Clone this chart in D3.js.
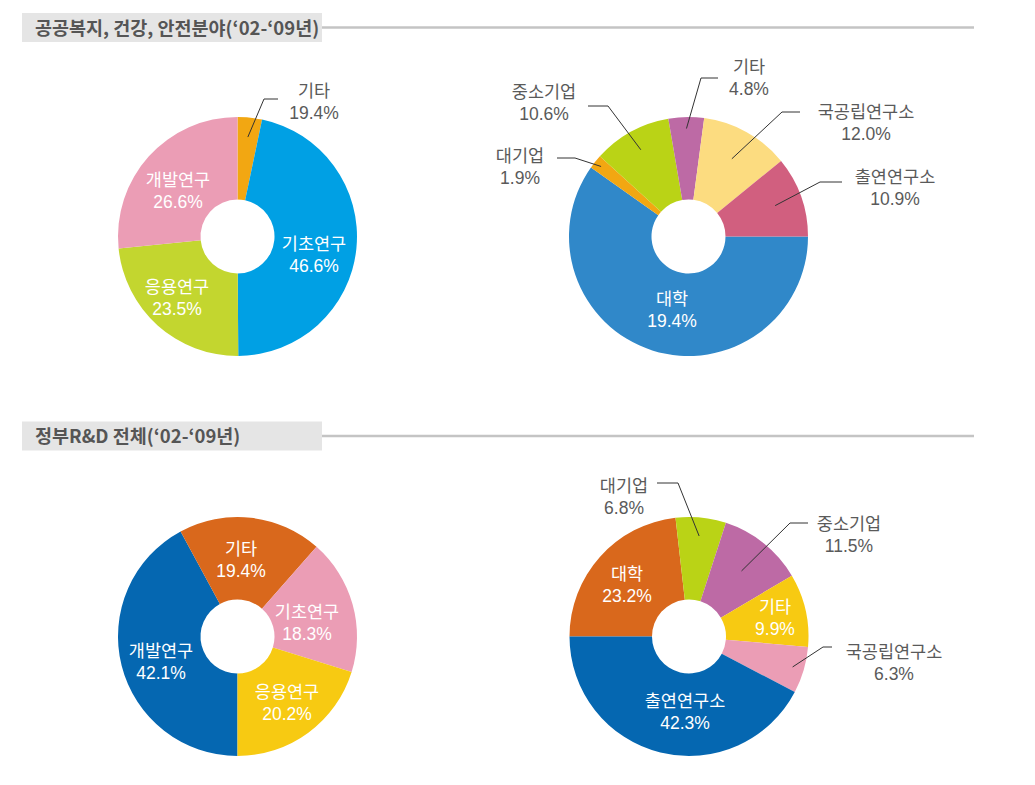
<!DOCTYPE html>
<html><head><meta charset="utf-8">
<script src="https://cdn.jsdelivr.net/npm/d3@7"></script>
<style>
html,body{margin:0;padding:0;background:#fff;}
svg{display:block;}
text{font-family:"Noto Sans CJK KR","Noto Sans",sans-serif;}
</style></head>
<body>
<svg id="chart" width="1035" height="785"></svg>
<script>
// ---- Data ----
const headerTitles = ["공공복지, 건강, 안전분야(‘02-‘09년)", "정부R&D 전체(‘02-‘09년)"];

// Chart 1: 공공복지 - 연구단계
const c1Categories = ["기타", "기초연구", "응용연구", "개발연구"];
const c1Values     = [3.3, 46.6, 23.5, 26.6];
const c1Labels     = ["19.4%", "46.6%", "23.5%", "26.6%"];

// Chart 2: 공공복지 - 수행주체
const c2Categories = ["대학", "대기업", "중소기업", "기타", "국공립연구소", "출연연구소"];
const c2Values     = [59.8, 1.9, 10.6, 4.8, 12.0, 10.9];
const c2Labels     = ["19.4%", "1.9%", "10.6%", "4.8%", "12.0%", "10.9%"];

// Chart 3: 정부R&D 전체 - 연구단계
const c3Categories = ["개발연구", "기타", "기초연구", "응용연구"];
const c3Values     = [42.1, 19.4, 18.3, 20.2];
const c3Labels     = ["42.1%", "19.4%", "18.3%", "20.2%"];

// Chart 4: 정부R&D 전체 - 수행주체
const c4Categories = ["대학", "대기업", "중소기업", "기타", "국공립연구소", "출연연구소"];
const c4Values     = [23.2, 6.8, 11.5, 9.9, 6.3, 42.3];
const c4Labels     = ["23.2%", "6.8%", "11.5%", "9.9%", "6.3%", "42.3%"];

// ---- Styles ----
const c1Colors = ["#f2a712", "#00a0e4", "#c3d62f", "#eb9db5"];
const c2Colors = ["#3088c9", "#f2a712", "#bad316", "#bd6aa5", "#fcdc80", "#d15f7f"];
const c3Colors = ["#0567b1", "#d9681c", "#eb9db5", "#f7ca12"];
const c4Colors = ["#d9681c", "#bad316", "#bd6aa5", "#f7ca12", "#eb9db5", "#0567b1"];

// ---- Layout (label placement relative to chart centre) ----
// inside: {t:[dx,dy]}  outside: {r: leader start radius, e:[elbow], n:[end], t:[text]}
const c1Layout = [
  {r:100, e:[26.5,-137.5], n:[40.5,-137.5], t:[76.5,-139.5]},
  {t:[76.5,13.5]},
  {t:[-60.5,56.5]},
  {t:[-59.5,-50.5]}
];
const c2Layout = [
  {t:[-16.5,68.5]},
  {r:112, e:[-113.5,-78.5], n:[-131.5,-78.5], t:[-168.5,-74.5]},
  {r:99,  e:[-80.5,-130.5], n:[-100.5,-130.5], t:[-144.5,-138.5]},
  {r:108, e:[12.5,-158.5], n:[29.5,-158.5], t:[60.5,-163.5]},
  {r:89,  e:[93.5,-124.5], n:[111.5,-124.5], t:[177.5,-118.5]},
  {r:92,  e:[131.5,-54.5], n:[153.5,-54.5], t:[206.5,-53.5]}
];
const c3Layout = [
  {t:[-76.5,20.5]},
  {t:[3.5,-81.5]},
  {t:[69.5,-18.5]},
  {t:[49.5,61.5]}
];
const c4Layout = [
  {t:[-62,-56.5]},
  {r:101, e:[-11,-153.5], n:[-32,-153.5], t:[-65,-144.5]},
  {r:84,  e:[101,-113.5], n:[119,-113.5], t:[160,-106.5]},
  {t:[86,-23.5]},
  {r:108, e:[134,10.5], n:[143,10.5], t:[205,21.5]},
  {t:[-4,70.5]}
];

const svg = d3.select("#chart");
const R = 119.5, r0 = 37;
const lineGap = 22;

function header(y0, title) {
  svg.append("line").attr("x1", 322).attr("x2", 974).attr("y1", y0 + 14.5).attr("y2", y0 + 14.5)
    .attr("stroke", "#c4c4c4").attr("stroke-width", 2.5);
  svg.append("rect").attr("x", 22).attr("y", y0).attr("width", 300).attr("height", 29)
    .attr("fill", "#e5e5e5");
  svg.append("text").attr("x", 35).attr("y", y0 + 21.5).text(title)
    .attr("font-size", 18.5).attr("font-weight", 700).attr("fill", "#555");
}

function donut(cx, cy, cats, vals, labels, colors, layout, startAngle) {
  const g = svg.append("g").attr("transform", `translate(${cx},${cy})`);
  const pie = d3.pie().sort(null).value(d => d.v)
    .startAngle(startAngle).endAngle(startAngle + 2 * Math.PI);
  const data = cats.map((c, i) => ({c, v: vals[i], l: labels[i], col: colors[i], lay: layout[i]}));
  const arcs = pie(data);
  const arc = d3.arc().innerRadius(r0).outerRadius(R);
  g.selectAll("path.slice").data(arcs).join("path").attr("class", "slice")
    .attr("d", arc).attr("fill", d => d.data.col);

  arcs.forEach(a => {
    const L = a.data.lay;
    const outside = L.r !== undefined;
    if (outside) {
      const sArc = d3.arc().innerRadius(L.r).outerRadius(L.r);
      const s = sArc.centroid(a);
      g.append("polyline").attr("points", [s, L.e, L.n].map(p => p.join(",")).join(" "))
        .attr("fill", "none").attr("stroke", "#333").attr("stroke-width", 1);
    }
    const col = outside ? "#5a5a5a" : "#fff";
    g.append("text").attr("text-anchor", "middle").attr("font-size", 17.5)
      .attr("fill", col).attr("x", L.t[0]).attr("y", L.t[1]).text(a.data.c);
    g.append("text").attr("text-anchor", "middle").attr("font-size", 17.5)
      .style("font-family", "'Liberation Sans', Arial, sans-serif")
      .attr("fill", col).attr("x", L.t[0]).attr("y", L.t[1] + lineGap).text(a.data.l);
  });
}

header(13, headerTitles[0]);
header(421.5, headerTitles[1]);

donut(237.5, 236.5, c1Categories, c1Values, c1Labels, c1Colors, c1Layout, 0);
donut(688.5, 236.5, c2Categories, c2Values, c2Labels, c2Colors, c2Layout, Math.PI / 2);
donut(237.5, 636.5, c3Categories, c3Values, c3Labels, c3Colors, c3Layout, Math.PI);
donut(689, 636.5, c4Categories, c4Values, c4Labels, c4Colors, c4Layout, 3 * Math.PI / 2);
</script>
</body></html>
